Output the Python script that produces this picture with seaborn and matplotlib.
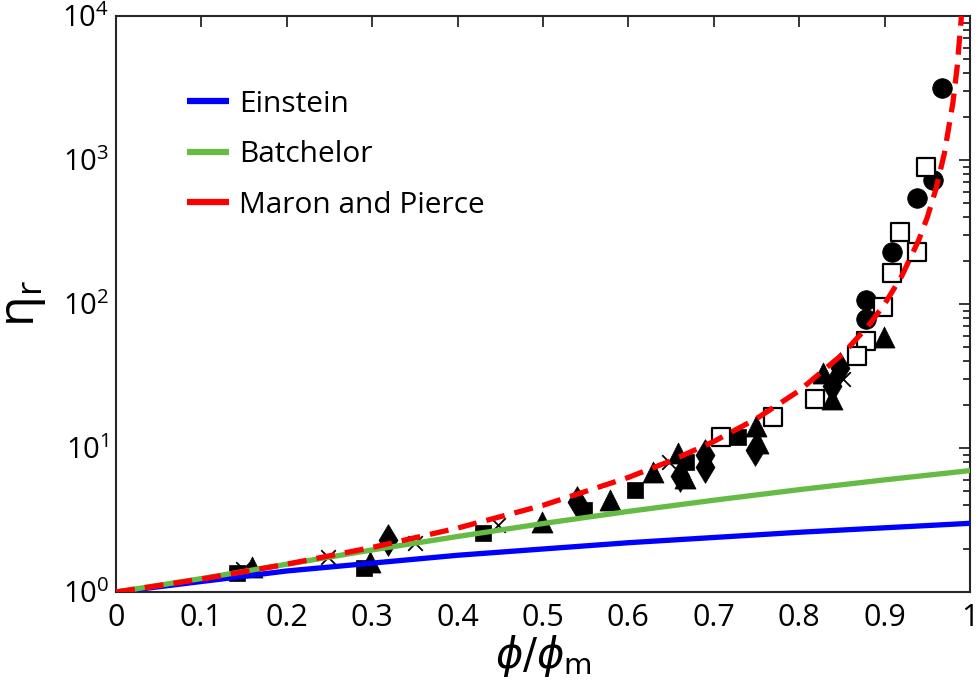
import numpy as np
import pandas as pd
import matplotlib
matplotlib.use("Agg")
import matplotlib.pyplot as plt
import seaborn as sns
from matplotlib.lines import Line2D
from matplotlib.ticker import LogLocator, FixedLocator

# ---------------- data ----------------
x_ticks = [0, 0.1, 0.2, 0.3, 0.4, 0.5, 0.6, 0.7, 0.8, 0.9, 1.0]
x_tick_labels = ["0", "0.1", "0.2", "0.3", "0.4", "0.5", "0.6", "0.7", "0.8", "0.9", "1"]

einstein_x = [0.0, 0.2, 0.4, 0.6, 0.8, 1.0]
einstein_y = [1.0, 1.4, 1.8, 2.2, 2.6, 3.0]

batchelor_x = [0.0, 0.1, 0.2, 0.3, 0.4, 0.5, 0.6, 0.7, 0.8, 0.9, 1.0]
batchelor_y = [1.0, 1.24, 1.56, 1.96, 2.43, 2.99, 3.63, 4.34, 5.14, 6.01, 6.97]

maron_x = [0.0, 0.1, 0.2, 0.3, 0.4, 0.5, 0.6, 0.65, 0.7, 0.75, 0.8, 0.85, 0.88,
           0.9, 0.92, 0.94, 0.95, 0.96, 0.97, 0.98, 0.985, 0.99]
maron_y = [1.0, 1.23, 1.56, 2.04, 2.78, 4.0, 6.25, 8.16, 11.1, 16.0, 25.0, 44.4, 69.4,
           100, 156, 278, 400, 625, 1111, 2500, 4444, 10000]

circle_x = [0.967, 0.957, 0.938, 0.909, 0.878, 0.878]
circle_y = [3160, 730, 545, 230, 107, 79]

open_square_x = [0.949, 0.918, 0.938, 0.909, 0.898, 0.878, 0.868, 0.818, 0.769, 0.708]
open_square_y = [894, 316, 230, 164, 95, 55, 43.5, 21.9, 16.4, 11.9]

triangle_x = [0.899, 0.828, 0.838, 0.749, 0.752, 0.658, 0.629, 0.666, 0.578, 0.499, 0.297, 0.159]
triangle_y = [59, 33, 21.9, 14.2, 10.8, 9.2, 6.8, 6.2, 4.36, 3.06, 1.62, 1.5]

square_x = [0.142, 0.29, 0.43, 0.548, 0.608, 0.668, 0.728]
square_y = [1.35, 1.47, 2.57, 3.7, 5.1, 8.0, 11.9]

diamond_x = [0.318, 0.54, 0.66, 0.69, 0.69, 0.748, 0.838, 0.848]
diamond_y = [2.3, 4.2, 6.4, 7.4, 9.0, 9.7, 27.0, 36.0]

cross_x = [0.149, 0.248, 0.35, 0.447, 0.648, 0.851]
cross_y = [1.45, 1.75, 2.2, 2.9, 8.0, 30.0]

legend_labels = ["Einstein", "Batchelor", "Maron and Pierce"]
line_colors = ["#0000ff", "#66bb44", "#ff0000"]

# ---------------- style ----------------
sns.set_theme(style="white")
plt.rcParams["font.family"] = ["Open Sans", "DejaVu Sans"]
plt.rcParams["mathtext.fontset"] = "dejavusans"
plt.rcParams["text.color"] = "black"
plt.rcParams["axes.labelcolor"] = "black"

fig = plt.figure(figsize=(9.79, 6.90), dpi=100)
ax = fig.add_axes([0.1185, 0.142, 0.8723, 0.8348])

# ---------------- markers ----------------
mk = dict(ax=ax, legend=False, zorder=2)
sns.scatterplot(x=circle_x, y=circle_y, marker="o", s=200, color="black",
                edgecolor="black", linewidth=0.5, **mk)
sns.scatterplot(x=square_x, y=square_y, marker="s", s=140, color="black",
                edgecolor="black", linewidth=0.5, **mk)
sns.scatterplot(x=triangle_x, y=triangle_y, marker="^", s=230, color="black",
                edgecolor="black", linewidth=0.5, **mk)
sns.scatterplot(x=diamond_x, y=diamond_y, marker="d", s=260, color="black",
                edgecolor="black", linewidth=0.5, **mk)
sns.scatterplot(x=open_square_x, y=open_square_y, marker="s", s=150, color="white",
                edgecolor="black", linewidth=1.6, **mk)
sns.scatterplot(x=cross_x, y=cross_y, marker="x", s=110, color="black",
                linewidth=1.3, **mk)

# ---------------- model lines ----------------
LW = 3.8
sns.lineplot(x=einstein_x, y=einstein_y, ax=ax, color=line_colors[0], lw=LW,
             estimator=None, zorder=3)
sns.lineplot(x=batchelor_x, y=batchelor_y, ax=ax, color=line_colors[1], lw=LW,
             estimator=None, zorder=3)
sns.lineplot(x=maron_x, y=maron_y, ax=ax, color=line_colors[2], lw=LW,
             estimator=None, zorder=4, dashes=False, linestyle=(0, (3.6, 1.9)))

# ---------------- axes ----------------
ax.set_yscale("log")
ax.set_xlim(0, 1)
ax.set_ylim(1, 1e4)
ax.xaxis.set_major_locator(FixedLocator(x_ticks))
ax.set_xticklabels(x_tick_labels)
ax.yaxis.set_major_locator(LogLocator(base=10, numticks=10))
ax.yaxis.set_minor_locator(LogLocator(base=10, subs=np.arange(2, 10), numticks=50))

for sp in ax.spines.values():
    sp.set_visible(True)
    sp.set_color("#262626")
    sp.set_linewidth(1.5)

ax.tick_params(which="both", direction="in", top=True, right=True,
               color="#262626", width=1.3)
ax.tick_params(which="major", length=8, labelsize=21, pad=8, labelcolor="black")
ax.tick_params(which="minor", length=5)
ax.tick_params(axis="y", which="major", pad=5)
for lab in ax.get_xticklabels():
    lab.set_fontfamily(["Liberation Sans Narrow", "Open Sans", "DejaVu Sans"])
    lab.set_fontsize(22)

ax.set_xlabel(r"$\phi/\phi_{\mathrm{m}}$", fontsize=30, labelpad=0)
ax.set_ylabel("η$_{\\mathregular{r}}$", fontsize=36, labelpad=10)

# ---------------- legend ----------------
handles = [Line2D([0], [0], color=c, lw=4.5, solid_capstyle="butt") for c in line_colors]
ax.legend(handles, legend_labels, loc="upper left", bbox_to_anchor=(0.083, 0.872),
          frameon=False, fontsize=21.5, handlelength=1.4, handletextpad=0.35,
          labelspacing=0.72, borderaxespad=0, borderpad=0, labelcolor="black")

ax.grid(False)
fig.savefig("out.png", dpi=100)
